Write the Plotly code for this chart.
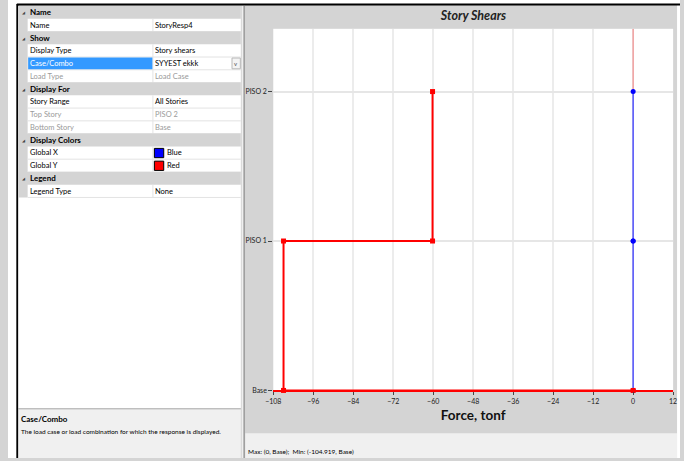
import plotly.graph_objects as go

W, H = 684, 461

# ---- story shear data ----
story_names = ["Base", "PISO 1", "PISO 2"]
story_levels = [0, 1, 2]
shear_x = [0.0, 0.0]          # Global X shear in stories PISO 1, PISO 2 (tonf)
shear_y = [-104.919, -60.2]   # Global Y shear in stories PISO 1, PISO 2 (tonf)
x_range = [-108, 12]
x_step = 12
y_top = 2.42

# ---- property grid contents ----
grid_rows = [
    ("head", "Name", ""),
    ("item", "Name", "StoryResp4"),
    ("head", "Show", ""),
    ("item", "Display Type", "Story shears"),
    ("sel", "Case/Combo", "SYYEST ekkk"),
    ("dim", "Load Type", "Load Case"),
    ("head", "Display For", ""),
    ("item", "Story Range", "All Stories"),
    ("dim", "Top Story", "PISO 2"),
    ("dim", "Bottom Story", "Base"),
    ("head", "Display Colors", ""),
    ("swatch", "Global X", "Blue"),
    ("swatch", "Global Y", "Red"),
    ("head", "Legend", ""),
    ("item", "Legend Type", "None"),
]
swatch_colors = {"Blue": "#0000ff", "Red": "#ff0000"}
help_title = "Case/Combo"
help_text = "The load case or load combination for which the response is displayed."
status_text = "Max: (0, Base);  Min: (-104.919, Base)"

FONT = "Lato, Roboto, sans-serif"
PANEL = "#d4d4d4"


def px(x):
    return x / W


def py(y):
    return 1 - y / H


shapes = []
annotations = []


def rect(x0, y0, x1, y1, fill, line_color=None, line_width=0):
    shapes.append(dict(type="rect", xref="paper", yref="paper",
                       x0=px(x0), x1=px(x1), y0=py(y1), y1=py(y0),
                       fillcolor=fill, layer="below",
                       line=dict(width=line_width, color=line_color or fill)))


def line(x0, y0, x1, y1, color, width=1):
    shapes.append(dict(type="line", xref="paper", yref="paper",
                       x0=px(x0), x1=px(x1), y0=py(y0), y1=py(y1),
                       layer="below", line=dict(color=color, width=width)))


def text(x, y, s, size=7, color="#000000", anchor="left", family=FONT):
    annotations.append(dict(xref="paper", yref="paper", x=px(x), y=py(y),
                            text=s, showarrow=False, xanchor=anchor,
                            yanchor="middle", borderpad=0,
                            font=dict(family=family, size=size, color=color)))


# window frame: white margin, black top/left border
rect(0, 0, W, 4, "#ffffff")
rect(0, 0, 9, H, "#ffffff")
rect(681, 0, W, H, "#ffffff")
line(9, 4.5, W, 4.5, "#000000", 2)
line(9.5, 4, 9.5, H, "#000000", 2)

# ---- left panel: property grid ----
rect(10.5, 6, 237, 411, "#ffffff")
row_top, row_h = 6.0, 12.85
n_rows = len(grid_rows)
rect(10.5, row_top, 20, row_top + n_rows * row_h, PANEL)
for i, (kind, label, value) in enumerate(grid_rows):
    y0 = row_top + i * row_h
    y1 = y0 + row_h
    yc = (y0 + y1) / 2
    if kind == "head":
        rect(10.5, y0, 237, y1, PANEL)
        text(13, yc + 0.5, "◢", size=4, color="#444444", family="DejaVu Sans")
        text(21, yc, "<b>" + label + "</b>", size=8)
        continue
    line(20, y1, 237, y1, "#e3e3e3", 1)
    line(147.5, y0, 147.5, y1, "#e3e3e3", 1)
    lab_color = "#000000"
    val_color = "#000000"
    if kind == "dim":
        lab_color = val_color = "#9a9a9a"
    if kind == "sel":
        rect(20.5, y0 + 0.5, 147, y1 - 0.5, "#3399ff")
        lab_color = "#ffffff"
        rect(228, y0 + 1, 236.5, y1 - 1, "#f4f4f4", "#b8b8b8", 1)
        text(232.3, yc, "v", size=6, color="#555555", anchor="center")
    text(21, yc, label, size=7.5, color=lab_color)
    vx = 149
    if kind == "swatch":
        rect(149, y0 + 2, 158.5, y1 - 1.5, swatch_colors[value], "#000000", 1)
        vx = 161
    text(vx, yc, value, size=7.5, color=val_color)

# help area below the grid
rect(10.5, 411, 237, H, "#f0f0f0")
line(10.5, 411.5, 237, 411.5, "#a9a9a9", 1)
text(12, 422, "<b>" + help_title + "</b>", size=8)
text(12, 434, help_text, size=6.5)

# splitter between the panels
line(238.5, 6, 238.5, H, "#f5f5f5", 1)
line(240.5, 6, 240.5, H, "#a0a0a0", 1.5)

# status strip under the chart
rect(241.5, 436, 681, H, "#f0f0f0")
text(243, 454, status_text, size=6.5)

# ---- chart ----
def profile(shears):
    xs, ys = [], []
    for i in reversed(range(len(shears))):
        xs += [shears[i], shears[i]]
        ys += [story_levels[i + 1], story_levels[i]]
    xs.append(0.0)
    ys.append(story_levels[0])
    return xs, ys


xs_x, ys_x = profile(shear_x)
xs_y, ys_y = profile(shear_y)

fig = go.Figure()
# zero reference of the Global Y curve above the top story
fig.add_trace(go.Scatter(x=[shear_x[-1], shear_x[-1]], y=[story_levels[-1], y_top],
                         mode="lines", line=dict(color="rgba(255,0,0,0.4)", width=1.2),
                         hoverinfo="skip", showlegend=False))
fig.add_trace(go.Scatter(x=xs_x, y=ys_x, mode="lines+markers", name="Global X",
                         line=dict(color="rgba(40,40,255,0.75)", width=1.6),
                         marker=dict(color="#0000ff", size=5, symbol="circle"),
                         cliponaxis=False, showlegend=False))
fig.add_trace(go.Scatter(x=xs_y, y=ys_y, mode="lines+markers", name="Global Y",
                         line=dict(color="#ff0000", width=2),
                         marker=dict(color="#ff0000", size=5, symbol="square"),
                         cliponaxis=False, showlegend=False))

plot_l, plot_r, plot_t, plot_b = 270, 677, 29, 393
fig.update_layout(
    width=W, height=H,
    margin=dict(l=0, r=0, t=0, b=0),
    paper_bgcolor=PANEL,
    plot_bgcolor="#ffffff",
    font=dict(family=FONT, size=7, color="#222222"),
    shapes=shapes,
    annotations=annotations,
    title=dict(text="<b><i>Story Shears</i></b>", x=(plot_l + plot_r) / 2 / W, xanchor="center",
               y=py(16), yanchor="middle", yref="paper",
               font=dict(family=FONT, size=12.5, color="#222222")),
    xaxis=dict(domain=[px(plot_l), px(plot_r)], range=x_range,
               tickmode="linear", tick0=x_range[0], dtick=x_step,
               showgrid=True, gridcolor="#ececec", gridwidth=1.5,
               zeroline=False, showline=True, linecolor="#ff0000", linewidth=1.5,
               ticks="outside", ticklen=3, tickcolor="#444444",
               tickfont=dict(family=FONT, size=7, color="#222222"),
               title=dict(text="<b>Force, tonf</b>", standoff=7,
                          font=dict(family=FONT, size=13.5, color="#111111"))),
    yaxis=dict(domain=[py(plot_b), py(plot_t)], range=[story_levels[0], y_top],
               tickvals=story_levels, ticktext=story_names,
               showgrid=True, gridcolor="#e6e6e6", gridwidth=1.5,
               zeroline=False, showline=False,
               ticks="outside", ticklen=4, tickcolor="#444444",
               tickfont=dict(family=FONT, size=7, color="#222222")),
)

fig.write_html("out.html")
